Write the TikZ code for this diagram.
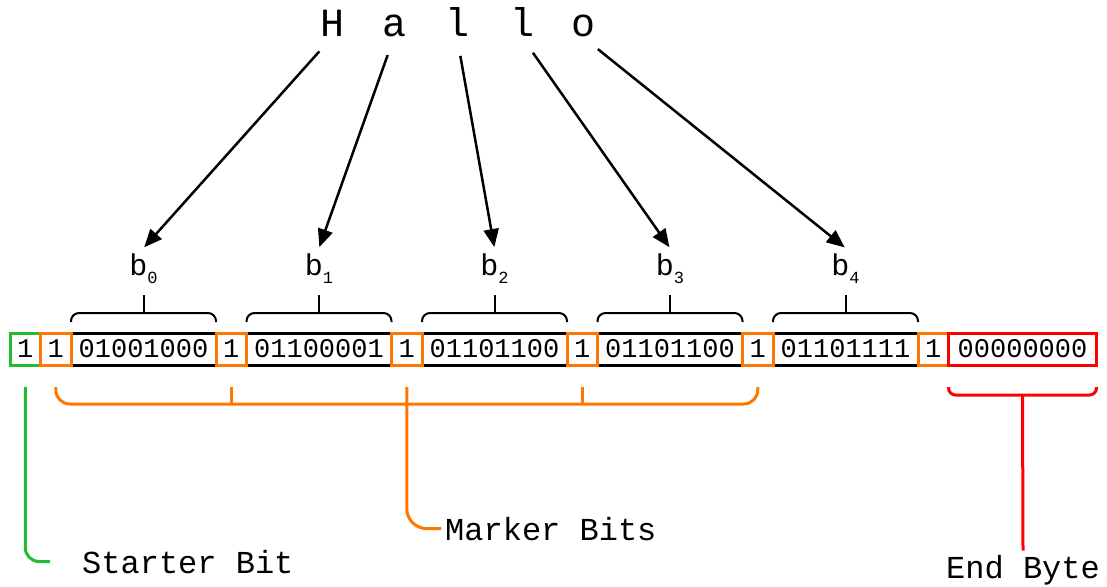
\documentclass[tikz,border=0pt]{standalone}
\usepackage{fontspec}
\setmainfont{Liberation Mono}
\usetikzlibrary{positioning,arrows.meta}

\definecolor{markorange}{RGB}{255,119,0}
\definecolor{startgreen}{RGB}{34,187,51}
\definecolor{endred}{RGB}{255,0,0}

\newcommand{\bsub}[1]{b\raisebox{-8pt}{\fontsize{17}{17}\selectfont #1}}

\tikzset{
  bitbox/.style={draw, line width=3pt, minimum width=30.5pt, minimum height=32pt,
    inner sep=0pt, outer sep=0pt, font=\fontsize{27}{29}\selectfont},
  startbit/.style={bitbox, draw=startgreen},
  markbit/.style={bitbox, draw=markorange},
  bytebox/.style={bitbox, draw=none, minimum width=145pt},
  endbyte/.style={bitbox, draw=endred, minimum width=148pt},
  byteline/.style={line width=3pt},
  brace/.style={line width=2pt, rounded corners=8pt},
  letter/.style={anchor=base, inner sep=0pt, text depth=0pt, font=\fontsize{40}{44}\selectfont},
  blabel/.style={anchor=base, inner sep=5pt, font=\fontsize{30}{32}\selectfont},
  lbl/.style={inner sep=4pt, font=\fontsize{32}{35}\selectfont},
  arr/.style={line width=2.5pt, -{Triangle[length=18pt,width=15pt]}, shorten <=19pt, shorten >=1pt},
  markline/.style={markorange, line width=3pt, rounded corners=14pt},
}

\begin{document}
\begin{tikzpicture}[x=1pt, y=-1pt]
    \useasboundingbox (0,0) rectangle (1107,586);

    % Word
    \node[letter] (H)  at (332,37) {H};
    \node[letter] (a)  at (394,37) {a};
    \node[letter] (l1) at (457,37) {l};
    \node[letter] (l2) at (522,37) {l};
    \node[letter] (o)  at (583,37) {o};

    % Bit row
    \node[startbit] (s) at (25.25,349) {1};
    \node[markbit, right=0pt of s]  (m0) {1};
    \node[bytebox, right=0pt of m0] (d0) {01001000};
    \node[markbit, right=0pt of d0] (m1) {1};
    \node[bytebox, right=0pt of m1] (d1) {01100001};
    \node[markbit, right=0pt of d1] (m2) {1};
    \node[bytebox, right=0pt of m2] (d2) {01101100};
    \node[markbit, right=0pt of d2] (m3) {1};
    \node[bytebox, right=0pt of m3] (d3) {01101100};
    \node[markbit, right=0pt of d3] (m4) {1};
    \node[bytebox, right=0pt of m4] (d4) {01101111};
    \node[markbit, right=0pt of d4] (m5) {1};
    \node[endbyte, right=0pt of m5] (e)  {00000000};

    % Bytes: top/bottom lines, braces and labels
    \foreach \i in {0,...,4} {
        \draw[byteline] ([xshift=1.5pt]d\i.north west) -- ([xshift=-1.5pt]d\i.north east)
                        ([xshift=1.5pt]d\i.south west) -- ([xshift=-1.5pt]d\i.south east);
        \draw[brace] ([yshift=11pt]d\i.north west) |- ([yshift=20pt]d\i.north)
                     -| ([yshift=11pt]d\i.north east);
        \draw[line width=2pt] ([yshift=20pt]d\i.north) -- ([yshift=38pt]d\i.north);
        \node[blabel] (b\i) at ([yshift=58pt]d\i.north) {\bsub{\i}};
    }

    % Letters to bytes
    \foreach \from/\to in {H/b0, a/b1, l1/b2, l2/b3, o/b4}
        \draw[arr] (\from.south) -- (\to.north);

    % Marker bits
    \draw[markline] ([yshift=-22pt]m0.south) |- ([yshift=-39pt]m2.south)
                    -| ([yshift=-22pt]m4.south);
    \foreach \i in {1,3}
        \draw[markline] ([yshift=-22pt]m\i.south) -- ([yshift=-39pt]m\i.south);
    \node[lbl, anchor=base west] (mark) at (441,540) {Marker Bits};
    \draw[markline, rounded corners=20pt] ([yshift=-22pt]m2.south) |- (mark.west);

    % Starter bit
    \node[lbl, anchor=base west] (start) at (78,573) {Starter Bit};
    \draw[startgreen, line width=3pt, rounded corners=14pt]
        ([yshift=-22pt]s.south) |- ([xshift=-28pt]start.west);

    % End byte
    \node[lbl, anchor=base] (endb) at (1023,578) {End Byte};
    \draw[endred, line width=3pt, rounded corners=7pt]
        ([yshift=-22pt]e.south west) |- ([yshift=-30pt]e.south) -| ([yshift=-22pt]e.south east);
    \draw[endred, line width=3pt] ([yshift=-30pt]e.south) -- (endb.north);
\end{tikzpicture}
\end{document}
